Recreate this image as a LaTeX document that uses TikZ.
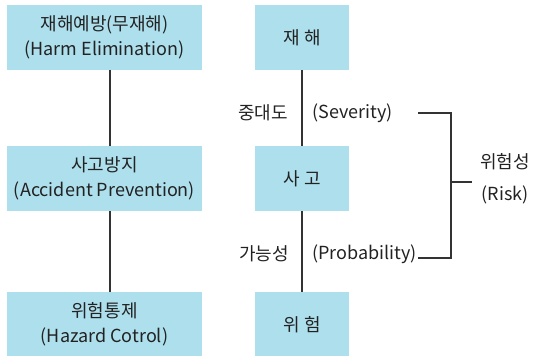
\documentclass[tikz,border=0pt]{standalone}
\usepackage{fontspec}
\setmainfont{Noto Sans CJK KR}
\definecolor{boxblue}{HTML}{ADDFEC}
\definecolor{ink}{HTML}{222222}
\definecolor{linegray}{HTML}{333333}
\begin{document}
\begin{tikzpicture}[x=1pt,y=-1pt,
  box/.style={fill=boxblue,draw=none,minimum height=65pt,inner sep=0pt,align=center,
    font=\fontsize{18}{25}\selectfont,text=ink},
  wbox/.style={box,minimum width=195pt},
  nbox/.style={box,minimum width=94pt},
  lbl/.style={font=\fontsize{18}{25}\selectfont,text=ink,inner sep=0pt},
  conn/.style={draw=linegray,line width=1.4pt}]
\useasboundingbox (0,0) rectangle (533,356);
\node[wbox] (L1) at (104.5,37.5) {재해예방(무재해)\\(Harm Elimination)};
\node[wbox] (L2) at (104.5,178.5) {사고방지\\(Accident Prevention)};
\node[wbox] (L3) at (104.5,324.5) {위험통제\\(Hazard Cotrol)};
\node[nbox] (R1) at (302,37.5) {재 해};
\node[nbox] (R2) at (302,178.5) {사 고};
\node[nbox] (R3) at (302,324.5) {위 험};
\draw[conn] ([xshift=5.5pt]L1.south) -- ([xshift=5.5pt]L2.north);
\draw[conn] ([xshift=5.5pt]L2.south) -- ([xshift=5.5pt]L3.north);
\draw[conn] (R1) -- (R2);
\draw[conn] (R2) -- (R3);
\node[lbl,anchor=east] (sevk) at (288,113) {중대도};
\node[lbl,anchor=west] (sev) at (312,113) {(Severity)};
\node[lbl,anchor=east] (probk) at (289,254) {가능성};
\node[lbl,anchor=west] (prob) at (312,254) {(Probability)};
\node[lbl,align=center,font=\fontsize{18}{32}\selectfont] (risk) at (505,179) {위험성\\(Risk)};
\coordinate (s1) at (419,113);
\coordinate (p1) at (419,258);
\coordinate (m1) at (472,182);
\draw[conn,line cap=rect] (s1) -| (451,258) -- (p1);
\draw[conn] (451,182) -- (m1);
\end{tikzpicture}
\end{document}
